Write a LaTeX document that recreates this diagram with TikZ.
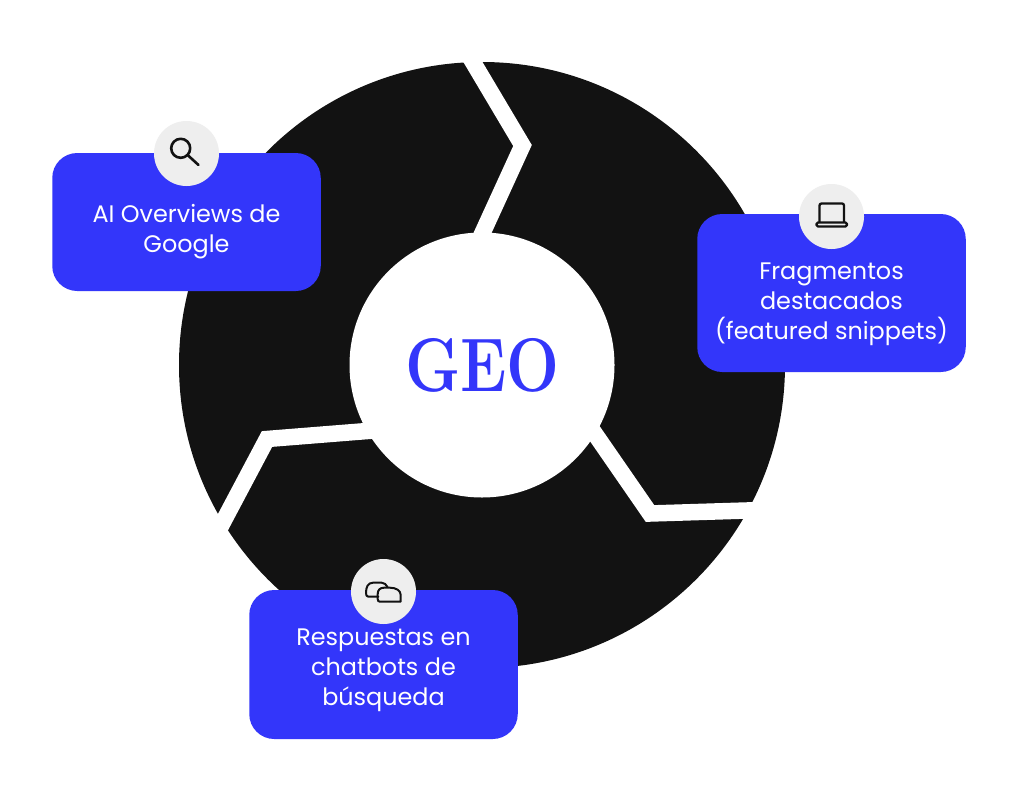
\documentclass[tikz,border=0pt]{standalone}
\usepackage{fontspec}
\newfontfamily\labelfont{Poppins}
\definecolor{ink}{HTML}{121212}
\definecolor{royal}{HTML}{3336FA}
\definecolor{badge}{HTML}{EEEEEE}
\tikzset{
  x=1pt,y=-1pt,
  gap/.style={draw=white,line width=16.5pt,line join=miter,miter limit=10},
  card/.style={fill=royal,rounded corners=25pt,minimum width=268.5pt,inner sep=0pt},
  iconbadge/.style={circle,fill=badge,minimum size=65pt,inner sep=0pt},
  cardtext/.style={text=white,align=center,font=\labelfont\fontsize{23.9}{30}\selectfont,inner sep=0pt},
  glyph/.style={draw=ink,line width=2.3pt,line join=round,line cap=round}
}
\begin{document}
\begin{tikzpicture}
\useasboundingbox[fill=white] (0,0) rectangle (1024,800);
\coordinate (c) at (482,365);
\fill[ink] (c) circle[radius=303];
\draw[gap] (461,42) -- (522.5,145.5) -- (474.7,250);
\draw[gap] (400,428.4) -- (267,439) -- (205,556);
\draw[gap] (575,405) -- (650,513.5) -- (795,509);
\fill[white] (c) circle[radius=132.5];
\node[font=\fontsize{76}{76}\selectfont\bfseries\addfontfeature{FakeBold=1.6},text=royal,inner sep=0pt] (geo) at (482.5,365.5) {\scalebox{0.825}[1]{GEO}};

\node[card,minimum height=138pt] (b1) at (186.5,222) {};
\node[card,minimum height=158pt] (b2) at (831.5,293) {};
\node[card,minimum height=149pt] (b3) at (383.5,664.5) {};
\node[iconbadge] (i1) at (186.5,153.5) {};
\node[iconbadge] (i2) at (831.5,216.5) {};
\node[iconbadge] (i3) at (383.5,591.5) {};
\node[cardtext] (t1) at (186.5,232) {AI Overviews de\\Google};
\node[cardtext] (t2) at (831.5,304) {Fragmentos\\destacados\\(featured snippets)};
\node[cardtext] (t3) at (383.5,670) {Respuestas en\\chatbots de\\búsqueda};

\draw[glyph,line width=2.6pt] (180.7,148.3) circle[radius=9.5];
\draw[glyph,line width=2.6pt] (187.6,155) -- (198.5,165);
\draw[glyph] (819.5,222) -- (819.5,206) [rounded corners=2pt] -- (819.5,203.5) -- (844,203.5) -- (844,222);
\draw[glyph,rounded corners=1.5pt] (816.5,222.5) rectangle (847,226.5);
\draw[glyph,line width=2pt] (378.3,596.7) -- (368.3,596.7) .. controls (366.5,596.7) and (366,595) .. (366,592.7) .. controls (366,587) and (368,582.7) .. (373,582.7) -- (381.7,582.7) .. controls (384,582.7) and (386.5,584.5) .. (387.7,587.3);
\draw[glyph,line width=2pt] (380,601.7) -- (400.7,601.7) -- (400.7,595) .. controls (400.7,590.5) and (396,587.7) .. (390,587.7) -- (384,587.7) .. controls (380,587.7) and (377.7,590) .. (377.7,594) -- (377.7,599) .. controls (377.7,601) and (378.5,601.7) .. (380,601.7);
\end{tikzpicture}
\end{document}
